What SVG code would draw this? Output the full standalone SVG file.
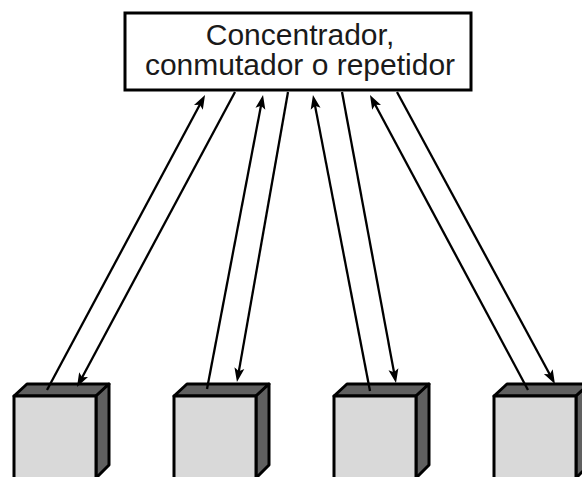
<svg xmlns="http://www.w3.org/2000/svg" width="582" height="477" viewBox="0 0 582 477">
<style>
.box{fill:#fff;stroke:#000;stroke-width:3}
.lbl{font-family:"Liberation Sans",Arial,sans-serif;font-size:30px;fill:#1a1a1a;text-anchor:middle}
.front{fill:#d9d9d9;stroke:#000;stroke-width:3;stroke-linejoin:round}
.dark{fill:#606060;stroke:#000;stroke-width:3;stroke-linejoin:round}
.ln{stroke:#000;stroke-width:2.3;fill:none;marker-end:url(#ah)}
</style>
<defs>
<marker id="ah" markerUnits="userSpaceOnUse" markerWidth="16" markerHeight="12" viewBox="0 -6 16 12" refX="8" refY="0" orient="auto">
<path d="M0,-5 L14,0 L0,5 L3,0 z" fill="#000"/>
</marker>
</defs>
<g id="hub">
<rect class="box" x="125" y="13" width="346" height="77"/>
<text class="lbl" x="300" y="45">Concentrador,</text>
<text class="lbl" x="300" y="75">conmutador o repetidor</text>
</g>
<g id="pc1">
<polygon class="dark" points="14,396 27,384 109,384 96,396"/>
<polygon class="dark" points="96,396 109,384 109,465 96,478"/>
<rect class="front" x="14" y="396" width="82" height="84"/>
</g>
<g id="pc2">
<polygon class="dark" points="174,396 187,384 269,384 256,396"/>
<polygon class="dark" points="256,396 269,384 269,465 256,478"/>
<rect class="front" x="174" y="396" width="82" height="84"/>
</g>
<g id="pc3">
<polygon class="dark" points="334,396 347,384 429,384 416,396"/>
<polygon class="dark" points="416,396 429,384 429,465 416,478"/>
<rect class="front" x="334" y="396" width="82" height="84"/>
</g>
<g id="pc4">
<polygon class="dark" points="494,396 507,384 589,384 576,396"/>
<polygon class="dark" points="576,396 589,384 589,465 576,478"/>
<rect class="front" x="494" y="396" width="82" height="84"/>
</g>
<g id="connectors">
<line class="ln" x1="47" y1="390" x2="202.2" y2="100.3"/>
<line class="ln" x1="235" y1="92" x2="79.8" y2="381.7"/>
<line class="ln" x1="207" y1="389" x2="261.9" y2="100.9"/>
<line class="ln" x1="288" y1="92" x2="238" y2="376.1"/>
<line class="ln" x1="370" y1="391" x2="314.1" y2="100.9"/>
<line class="ln" x1="342" y1="92" x2="394.9" y2="377.1"/>
<line class="ln" x1="528" y1="390" x2="372.8" y2="100.3"/>
<line class="ln" x1="397" y1="92" x2="552.1" y2="378.7"/>
</g>
</svg>
